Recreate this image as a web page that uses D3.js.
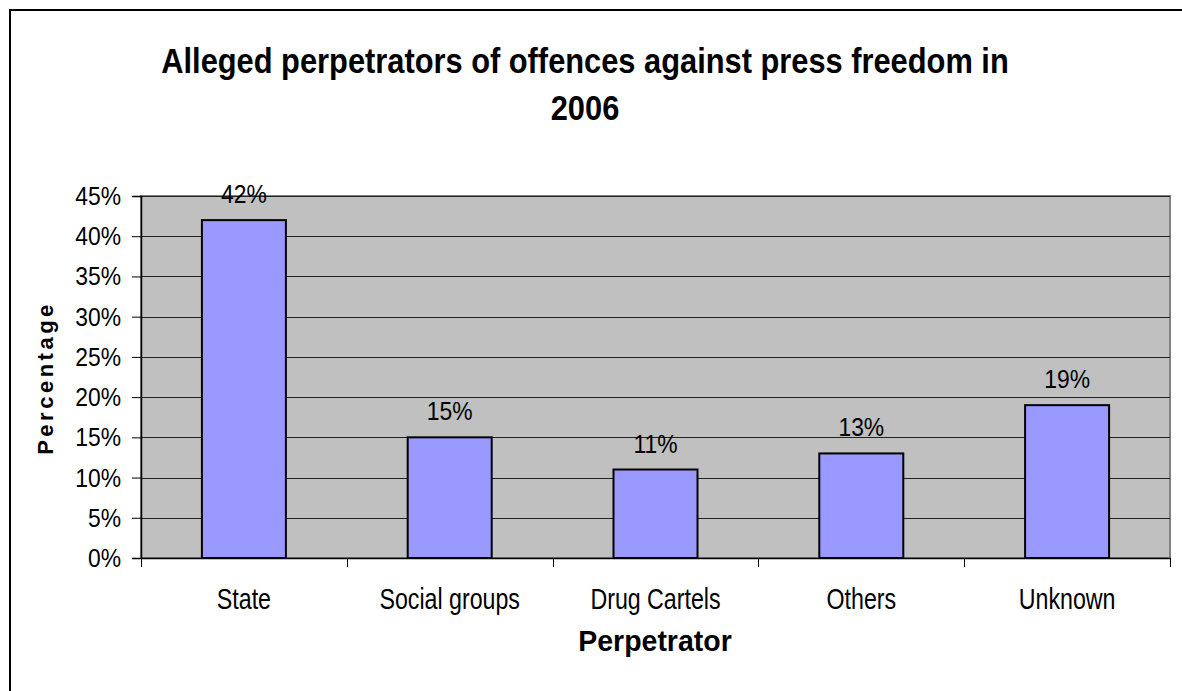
<!DOCTYPE html>
<html>
<head>
<meta charset="utf-8">
<script src="https://cdn.jsdelivr.net/npm/d3@7"></script>
<style>
  body { margin: 0; background: #fff; }
  svg { display: block; font-family: "Liberation Sans", Arial, sans-serif; }
</style>
</head>
<body>
<svg width="1182" height="691"></svg>
<script>
// Chart data
const categories = ["State", "Social groups", "Drug Cartels", "Others", "Unknown"];
const values = [0.42, 0.15, 0.11, 0.13, 0.19];
const yTicks = [0, 0.05, 0.10, 0.15, 0.20, 0.25, 0.30, 0.35, 0.40, 0.45];

const svg = d3.select("svg");
const pct = d => Math.round(d * 100) + "%";

// The original font is a narrow sans, so squeeze Liberation Sans sideways
function narrowText(sel, x, y, sx) {
    return sel.append("text")
        .attr("transform", `translate(${x}, ${y}) scale(${sx}, 1)`)
        .attr("fill", "#000");
}

// Outer chart border (right and bottom run off the picture)
svg.append("path")
    .attr("d", "M10,700 L10,10 L1190,10")
    .attr("fill", "none")
    .attr("stroke", "#000")
    .attr("stroke-width", 2);

// Plot area
const plot = {left: 141, top: 196, right: 1170, bottom: 558};
const g = svg.append("g");

const x = d3.scaleBand()
    .domain(categories)
    .range([plot.left, plot.right]);

const y = d3.scaleLinear()
    .domain([0, 0.45])
    .range([plot.bottom, plot.top]);

g.append("rect")
    .attr("x", plot.left)
    .attr("y", plot.top)
    .attr("width", plot.right - plot.left)
    .attr("height", plot.bottom - plot.top)
    .attr("fill", "#c0c0c0")
    .attr("stroke", "#808080")
    .attr("stroke-width", 2);

// Gridlines
g.selectAll(".grid")
    .data(yTicks.slice(1))
    .enter()
    .append("line")
    .attr("x1", plot.left)
    .attr("x2", plot.right)
    .attr("y1", d => Math.round(y(d)) + 0.5)
    .attr("y2", d => Math.round(y(d)) + 0.5)
    .attr("stroke", "#222")
    .attr("stroke-width", 1);

// Bars
const barW = 84;
g.selectAll(".bar")
    .data(values)
    .enter()
    .append("rect")
    .attr("x", (d, i) => x(categories[i]) + x.bandwidth() / 2 - barW / 2)
    .attr("y", d => y(d))
    .attr("width", barW)
    .attr("height", d => plot.bottom - y(d))
    .attr("fill", "#9999ff")
    .attr("stroke", "#000")
    .attr("stroke-width", 2);

// Value labels above bars
values.forEach((d, i) => {
    narrowText(g, x(categories[i]) + x.bandwidth() / 2, y(d) - 17, 0.88)
        .attr("text-anchor", "middle")
        .attr("font-size", "26px")
        .text(pct(d));
});

// Y axis line and ticks
const yAxis = g.append("g")
    .attr("transform", `translate(${plot.left}, 0)`)
    .call(d3.axisLeft(y).tickValues(yTicks).tickSize(9).tickFormat(""));
yAxis.select(".domain").attr("stroke", "#000").attr("stroke-width", 1.5);
yAxis.selectAll("line").attr("stroke", "#000");

// Y tick labels
yTicks.forEach(t => {
    narrowText(g, 121, y(t) + 9, 0.88)
        .attr("text-anchor", "end")
        .attr("font-size", "26px")
        .text(pct(t));
});

// X axis line
const xAxis = g.append("g")
    .attr("transform", `translate(0, ${plot.bottom})`)
    .call(d3.axisBottom(x).tickSize(0).tickFormat(""));
xAxis.select(".domain").attr("stroke", "#000").attr("stroke-width", 1.5);

// Category separator ticks
xAxis.selectAll(".sep")
    .data(d3.range(categories.length + 1))
    .enter()
    .append("line")
    .attr("x1", i => Math.round(plot.left + i * x.step()) + 0.5)
    .attr("x2", i => Math.round(plot.left + i * x.step()) + 0.5)
    .attr("y1", 0)
    .attr("y2", 9)
    .attr("stroke", "#000");

// Category labels
categories.forEach(c => {
    narrowText(g, x(c) + x.bandwidth() / 2, 609, 0.8)
        .attr("text-anchor", "middle")
        .attr("font-size", "29px")
        .text(c);
});

// Title
narrowText(svg, 585, 73, 0.856)
    .attr("text-anchor", "middle")
    .attr("font-size", "36px")
    .attr("font-weight", "bold")
    .text("Alleged perpetrators of offences against press freedom in");
narrowText(svg, 585, 120, 0.856)
    .attr("text-anchor", "middle")
    .attr("font-size", "36px")
    .attr("font-weight", "bold")
    .text("2006");

// Axis titles
narrowText(svg, 655, 651, 0.95)
    .attr("text-anchor", "middle")
    .attr("font-size", "30px")
    .attr("font-weight", "bold")
    .text("Perpetrator");

svg.append("text")
    .attr("transform", "translate(53, 378) rotate(-90)")
    .attr("text-anchor", "middle")
    .attr("font-size", "22px")
    .attr("font-weight", "bold")
    .attr("letter-spacing", "3.5px")
    .text("Percentage");
</script>
</body>
</html>
